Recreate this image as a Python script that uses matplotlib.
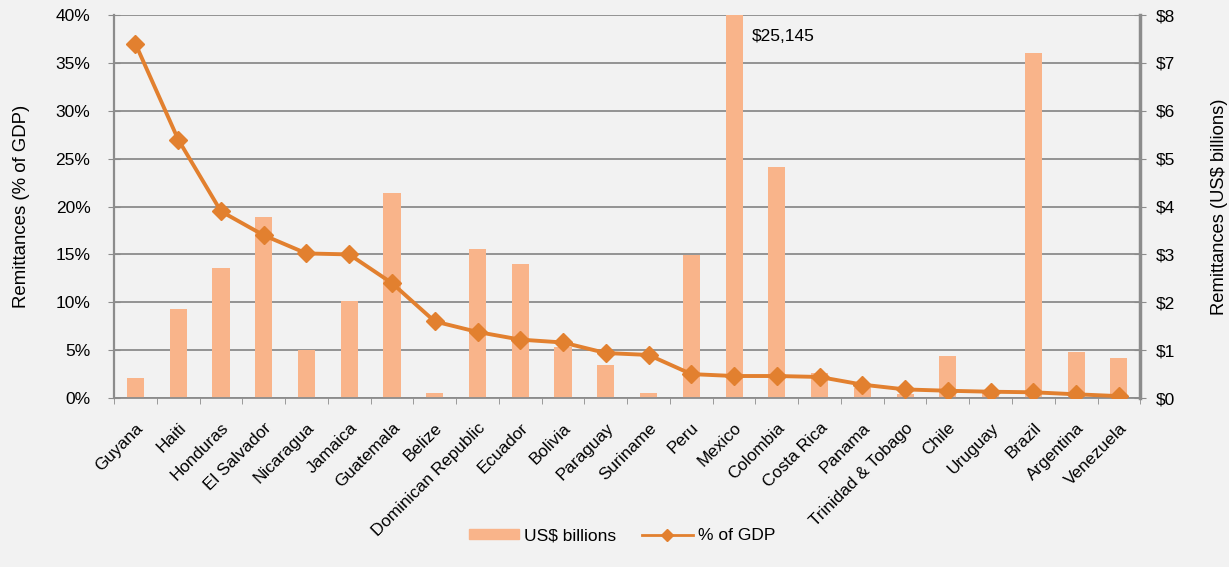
import numpy as np
import matplotlib
matplotlib.use("Agg")
import matplotlib.pyplot as plt
from matplotlib.ticker import FuncFormatter
from matplotlib.lines import Line2D

plt.rcParams['font.family'] = ['Liberation Sans', 'DejaVu Sans']

# --- data ---
countries = ["Guyana", "Haiti", "Honduras", "El Salvador", "Nicaragua", "Jamaica",
             "Guatemala", "Belize", "Dominican Republic", "Ecuador", "Bolivia",
             "Paraguay", "Suriname", "Peru", "Mexico", "Colombia", "Costa Rica",
             "Panama", "Trinidad & Tobago", "Chile", "Uruguay", "Brazil",
             "Argentina", "Venezuela"]
usd_billions = [0.42, 1.87, 2.71, 3.79, 1.0, 2.03, 4.29, 0.1, 3.12, 2.81, 1.07,
                0.69, 0.11, 2.99, 25.145, 4.83, 0.52, 0.22, 0.08, 0.88, 0.1, 7.2,
                0.97, 0.83]
pct_gdp = [37.0, 27.0, 19.5, 17.0, 15.1, 15.0, 12.0, 8.0, 6.9, 6.1, 5.8, 4.7,
           4.5, 2.5, 2.3, 2.3, 2.2, 1.4, 0.9, 0.76, 0.66, 0.6, 0.39, 0.2]
pct_ticks = [0, 5, 10, 15, 20, 25, 30, 35, 40]
usd_ticks = [0, 1, 2, 3, 4, 5, 6, 7, 8]

bar_color = "#F9B48A"
line_color = "#E2802F"
grid_color = "#8C8C8C"
bg = "#F2F2F2"
fs = 12.5

fig = plt.figure(figsize=(12.29, 5.67), dpi=100, facecolor=bg)
ax = fig.add_axes([0.0928, 0.298, 0.835, 0.6755])
axb = ax.twinx()

x = np.arange(len(countries))

# bars on the US$ axis, behind the line
axb.set_axisbelow(True)
axb.yaxis.grid(True, color=grid_color, linewidth=1.3)
bars = axb.bar(x, usd_billions, width=0.4, color=bar_color, zorder=2)
axb.set_ylim(0, 8)
axb.set_yticks(usd_ticks)
axb.yaxis.set_major_formatter(FuncFormatter(lambda v, p: f"${v:.0f}"))
axb.set_ylabel("Remittances (US$ billions)", fontsize=13.2)
axb.yaxis.set_label_coords(1.069, 0.5)

# line on the % axis, drawn on top
ax.set_zorder(axb.get_zorder() + 1)
ax.patch.set_visible(False)
axb.patch.set_facecolor(bg)
ax.plot(x, pct_gdp, color=line_color, linewidth=2.8, marker="D",
        markersize=9.5, zorder=5)
ax.set_ylim(0, 40)
ax.set_yticks(pct_ticks)
ax.yaxis.set_major_formatter(FuncFormatter(lambda v, p: f"{v:.0f}%"))
ax.set_ylabel("Remittances (% of GDP)", fontsize=13.4)
ax.yaxis.set_label_coords(-0.082, 0.5)
ax.set_xlim(-0.5, len(countries) - 0.5)

# category labels with ticks between categories
ax.set_xticks(x)
ax.set_xticklabels(countries, rotation=45, ha="right", rotation_mode="anchor", fontsize=12.3)
ax.tick_params(axis="x", which="major", length=0, pad=16)
ax.set_xticks(np.arange(len(countries) + 1) - 0.5, minor=True)
ax.tick_params(axis="x", which="minor", length=4, color=grid_color)

ax.tick_params(axis="y", labelsize=fs, color=grid_color, length=9, direction="inout", pad=12.5)
axb.tick_params(axis="y", labelsize=fs, color=grid_color, length=9, direction="inout", pad=7)

for a in (ax, axb):
    for s in a.spines.values():
        s.set_visible(False)
ax.spines["left"].set_visible(True)
ax.spines["left"].set_color(grid_color)
ax.spines["left"].set_linewidth(1.6)
ax.spines["bottom"].set_visible(True)
ax.spines["bottom"].set_color(grid_color)
ax.spines["bottom"].set_linewidth(1.3)
axb.spines["right"].set_visible(True)
axb.spines["right"].set_color(grid_color)
axb.spines["right"].set_linewidth(2.5)

# Mexico runs off the chart
i_mex = countries.index("Mexico")
axb.text(i_mex + 0.42, 7.55, f"${usd_billions[i_mex] * 1000:,.0f}",
         fontsize=fs, ha="left", va="center")

bar_handle = plt.Rectangle((0, 0), 1, 1, color=bar_color)
line_handle = Line2D([], [], color=line_color, linewidth=2, marker="D", markersize=6)
fig.legend(handles=[bar_handle, line_handle], labels=["US$ billions", "% of GDP"],
           loc="center", bbox_to_anchor=(0.506, 0.055), ncol=2, frameon=False,
           fontsize=fs, handlelength=2.9, handleheight=0.5, handletextpad=0.3,
           columnspacing=1.5)

fig.savefig("out.png", dpi=100, facecolor=bg)
